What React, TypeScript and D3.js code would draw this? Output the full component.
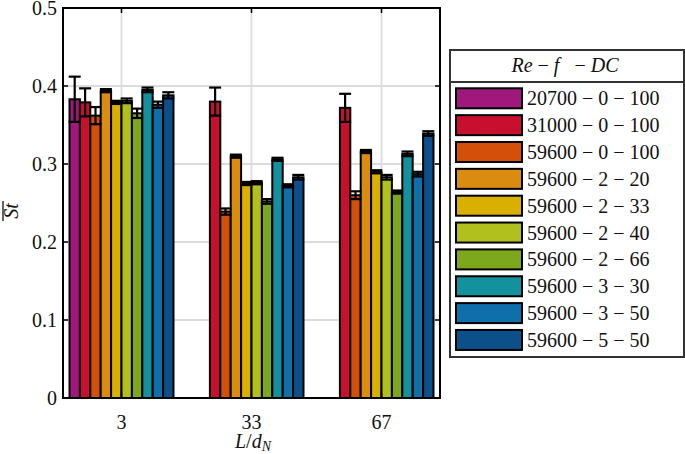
import React from 'react';
import * as d3 from 'd3';

// L/d_N groups
const groups = ['3', '33', '67'];

// legend entries: Re - f - DC
const series = [
  '20700 − 0 − 100',
  '31000 − 0 − 100',
  '59600 − 0 − 100',
  '59600 − 2 − 20',
  '59600 − 2 − 33',
  '59600 − 2 − 40',
  '59600 − 2 − 66',
  '59600 − 3 − 30',
  '59600 − 3 − 50',
  '59600 − 5 − 50',
];

const colors = [
  '#a0187c', '#c8102e', '#d4500a', '#d98c10', '#d9b000',
  '#b2c01e', '#7da71c', '#14919f', '#0f6fa9', '#0b4f8b',
];

// mean St per group (null = no measurement)
const means = [
  [0.383, 0.379, 0.362, 0.394, 0.379, 0.381, 0.365, 0.395, 0.376, 0.388],
  [null, 0.380, 0.239, 0.310, 0.275, 0.276, 0.252, 0.306, 0.272, 0.283],
  [null, 0.372, 0.260, 0.316, 0.290, 0.283, 0.264, 0.313, 0.287, 0.339],
];

const errors = [
  [0.029, 0.018, 0.011, 0.002, 0.002, 0.003, 0.006, 0.003, 0.004, 0.004],
  [0, 0.018, 0.004, 0.002, 0.002, 0.002, 0.003, 0.002, 0.002, 0.003],
  [0, 0.018, 0.005, 0.002, 0.002, 0.003, 0.002, 0.003, 0.003, 0.003],
];

const yTicks = [0, 0.1, 0.2, 0.3, 0.4, 0.5];

const W = 685;
const H = 454;
const plot = { left: 63, right: 440, top: 8, bottom: 398 };
const font = 'Liberation Serif, Times New Roman, Tinos, DejaVu Serif, serif';

const App = () => {
  const x = d3.scalePoint<string>()
    .domain(groups)
    .range([plot.left, plot.right])
    .padding(0.45);

  const inner = d3.scaleBand<number>()
    .domain(d3.range(series.length))
    .range([-52, 52]);

  const y = d3.scaleLinear().domain([0, 0.5]).range([plot.bottom, plot.top]);

  const legendRow = d3.scaleLinear().domain([0, 1]).range([98.3, 125.15]);

  return (
    <svg
      width={W}
      height={H}
      fontFamily={font}
      style={{ position: 'absolute', left: 0, top: 0, background: '#fff' }}
    >
      {/* grid */}
      <g stroke="#dcdcdc" strokeWidth={1.8}>
        {yTicks.slice(1, -1).map(t => (
          <line key={'gy' + t} x1={plot.left} x2={plot.right} y1={y(t)} y2={y(t)} />
        ))}
        {groups.map(g => (
          <line key={'gx' + g} x1={x(g)} x2={x(g)} y1={plot.top} y2={plot.bottom} />
        ))}
      </g>

      {/* bars */}
      {groups.map((g, gi) => (
        <g key={'bars' + g}>
          {means[gi].map((v, si) => v == null ? null : (
            <rect
              key={si}
              x={(x(g) as number) + (inner(si) as number)}
              y={y(v)}
              width={inner.bandwidth()}
              height={plot.bottom - y(v)}
              fill={colors[si]}
              stroke="#000"
              strokeWidth={2}
            />
          ))}
        </g>
      ))}

      {/* error bars */}
      {groups.map((g, gi) => (
        <g key={'err' + g} stroke="#000" strokeWidth={2.2}>
          {means[gi].map((v, si) => {
            if (v == null) return null;
            const cx = (x(g) as number) + (inner(si) as number) + inner.bandwidth() / 2;
            const e = errors[gi][si];
            const cap = 6;
            return (
              <g key={si}>
                <line x1={cx} x2={cx} y1={y(v + e)} y2={y(v - e)} />
                <line x1={cx - cap} x2={cx + cap} y1={y(v + e)} y2={y(v + e)} />
                <line x1={cx - cap} x2={cx + cap} y1={y(v - e)} y2={y(v - e)} />
              </g>
            );
          })}
        </g>
      ))}

      {/* axes box and ticks */}
      <rect
        x={plot.left}
        y={plot.top}
        width={plot.right - plot.left}
        height={plot.bottom - plot.top}
        fill="none"
        stroke="#000"
        strokeWidth={2}
      />
      <g stroke="#000" strokeWidth={1.5}>
        {yTicks.map(t => (
          <g key={'ty' + t}>
            <line x1={plot.left} x2={plot.left + 5} y1={y(t)} y2={y(t)} />
            <line x1={plot.right} x2={plot.right - 5} y1={y(t)} y2={y(t)} />
          </g>
        ))}
        {groups.map(g => (
          <g key={'tx' + g}>
            <line x1={x(g)} x2={x(g)} y1={plot.bottom} y2={plot.bottom - 5} />
            <line x1={x(g)} x2={x(g)} y1={plot.top} y2={plot.top + 5} />
          </g>
        ))}
      </g>

      {/* y tick labels */}
      {yTicks.map(t => (
        <text key={'ly' + t} x={57} y={y(t) + 7} textAnchor="end" fontSize={20} fill="#111">
          {t === 0 ? '0' : d3.format('.1f')(t)}
        </text>
      ))}

      {/* x tick labels */}
      {groups.map(g => (
        <text key={'lx' + g} x={x(g)} y={429} textAnchor="middle" fontSize={20} fill="#111">
          {g}
        </text>
      ))}

      {/* x label L/d_N */}
      <text x={253} y={448} textAnchor="middle" fontSize={20} fill="#111">
        <tspan fontStyle="italic">L</tspan>
        <tspan>/</tspan>
        <tspan fontStyle="italic">d</tspan>
        <tspan fontStyle="italic" fontSize={14} dy={3}>N</tspan>
      </text>

      {/* y label St with overline */}
      <g transform="translate(18,211) rotate(-90)">
        <text x={0} y={0} textAnchor="middle" fontSize={20} fontStyle="italic" fill="#111">St</text>
        <line x1={-10} x2={10} y1={-15} y2={-15} stroke="#111" strokeWidth={1.3} />
      </g>

      {/* legend */}
      <rect x={450} y={50} width={234} height={307} fill="#fff" stroke="#333" strokeWidth={2} />
      <line x1={450} x2={684} y1={82} y2={82} stroke="#333" strokeWidth={2} />
      <text x={565} y={72} textAnchor="middle" fontSize={20} fill="#111" style={{ whiteSpace: 'pre' }}>
        <tspan fontStyle="italic">Re</tspan>
        <tspan>{' − '}</tspan>
        <tspan fontStyle="italic">f</tspan>
        <tspan>{'   − '}</tspan>
        <tspan fontStyle="italic">DC</tspan>
      </text>
      {series.map((s, i) => {
        const cy = legendRow(i);
        return (
          <g key={'lg' + i}>
            <rect x={456} y={cy - 10} width={66} height={20} fill={colors[i]} stroke="#000" strokeWidth={2} />
            <text x={527} y={cy + 7} fontSize={20} fill="#111" style={{ whiteSpace: 'pre' }}>{s}</text>
          </g>
        );
      })}
    </svg>
  );
};

export default App;
